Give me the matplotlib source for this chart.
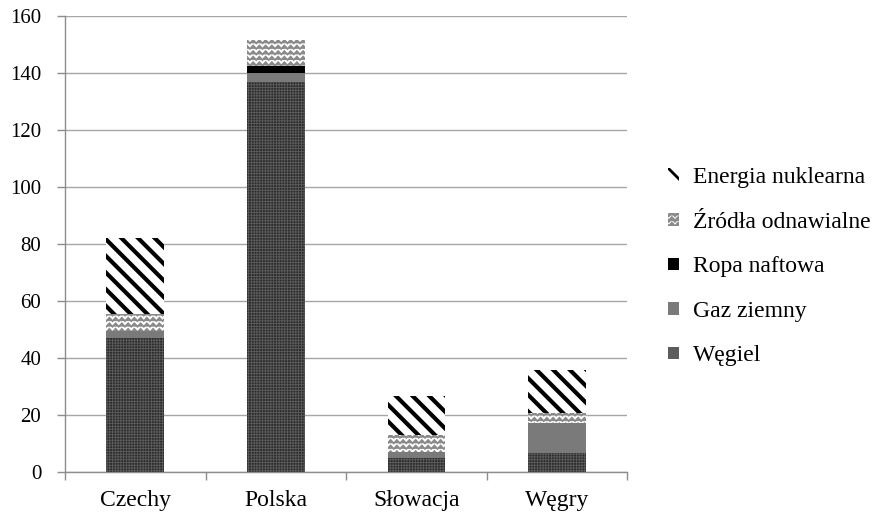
import warnings
import numpy as np
import matplotlib
matplotlib.use("Agg")
import matplotlib.pyplot as plt
import matplotlib.hatch as mhatch
from matplotlib.path import Path

warnings.filterwarnings("ignore")


# zigzag hatch, used for the renewables layer
class ZigZagHatch(mhatch.HatchPatternBase):
    def __init__(self, hatch, density):
        self.num_rows = hatch.count("z") * density // 2
        self.num_teeth = 16
        if self.num_rows:
            self.num_vertices = self.num_rows * (2 * self.num_teeth + 1)
        else:
            self.num_vertices = 0

    def set_vertices_and_codes(self, vertices, codes):
        n = self.num_teeth
        xs = np.linspace(0, 1, 2 * n + 1)
        i = 0
        amp = 0.3 / self.num_rows
        for r in range(self.num_rows):
            y0 = (r + 0.5) / self.num_rows
            for k, xv in enumerate(xs):
                vertices[i] = (xv, y0 + (amp if k % 2 else -amp))
                codes[i] = Path.MOVETO if k == 0 else Path.LINETO
                i += 1


mhatch._hatch_types.append(ZigZagHatch)

plt.rcParams["font.family"] = ["Liberation Serif", "DejaVu Serif"]

countries = ["Czechy", "Polska", "Słowacja", "Węgry"]
wegiel = [47.0, 137.0, 4.8, 6.5]
gaz = [2.5, 3.0, 2.3, 10.8]
ropa = [0.0, 2.5, 0.0, 0.0]
odnawialne = [6.0, 9.2, 6.0, 3.3]
nuklearna = [26.7, 0.0, 13.4, 15.2]

# name, values, bar style, hatch line width
series = [
    ("Węgiel", wegiel, dict(facecolor="#2c2c2c", edgecolor="#5c5c5c", hatch="++++++"), 0.6),
    ("Gaz ziemny", gaz, dict(facecolor="#7a7a7a", edgecolor="#7a7a7a"), 1.0),
    ("Ropa naftowa", ropa, dict(facecolor="#000000", edgecolor="#000000"), 1.0),
    ("Źródła odnawialne", odnawialne, dict(facecolor="white", edgecolor="#8a8a8a", hatch="zzzzzz"), 1.3),
    ("Energia nuklearna", nuklearna, dict(facecolor="white", edgecolor="black", hatch="\\\\"), 3.0),
]

fig = plt.figure(figsize=(8.77, 5.13), dpi=100)
ax = fig.add_axes([0.0741, 0.0799, 0.641, 0.889])

x = np.arange(len(countries))
bottom = np.zeros(len(countries))
handles = []
for name, vals, style, hlw in series:
    vals = np.array(vals)
    with plt.rc_context({"hatch.linewidth": hlw}):
        b = ax.bar(x, vals, 0.41, bottom=bottom, linewidth=0, label=name, zorder=3, **style)
        for p in b.patches:
            if hasattr(p, "set_hatch_linewidth"):
                p.set_hatch_linewidth(hlw)
    handles.append(b)
    bottom += vals

ax.set_xlim(-0.5, 3.5)
ax.set_ylim(0, 160)
ax.set_yticks(np.arange(0, 161, 20))
ax.set_xticks(x)
ax.set_xticklabels(countries, fontsize=17)
ax.set_xticks(np.arange(-0.5, 3.6, 1), minor=True)
ax.tick_params(axis="x", which="major", length=0, pad=13)
ax.tick_params(axis="x", which="minor", length=6, color="#8c8c8c", width=1)
ax.tick_params(axis="y", length=6, color="#8c8c8c", width=1, labelsize=15, pad=11)

ax.grid(axis="y", color="#a6a6a6", linewidth=1, zorder=0)
for s in ["top", "right"]:
    ax.spines[s].set_visible(False)
for s in ["left", "bottom"]:
    ax.spines[s].set_color("#8c8c8c")
    ax.spines[s].set_linewidth(1)

with plt.rc_context({"hatch.linewidth": 2.0}):
    leg = ax.legend(handles[::-1], [s[0] for s in series][::-1], loc="center left",
                    bbox_to_anchor=(0.762, 0.48), bbox_transform=fig.transFigure,
                    frameon=False, fontsize=17, borderpad=0, borderaxespad=0,
                    handlelength=0.45, handleheight=0.45, handletextpad=0.6,
                    labelspacing=1.0)

fig.savefig("out.png", dpi=100)
